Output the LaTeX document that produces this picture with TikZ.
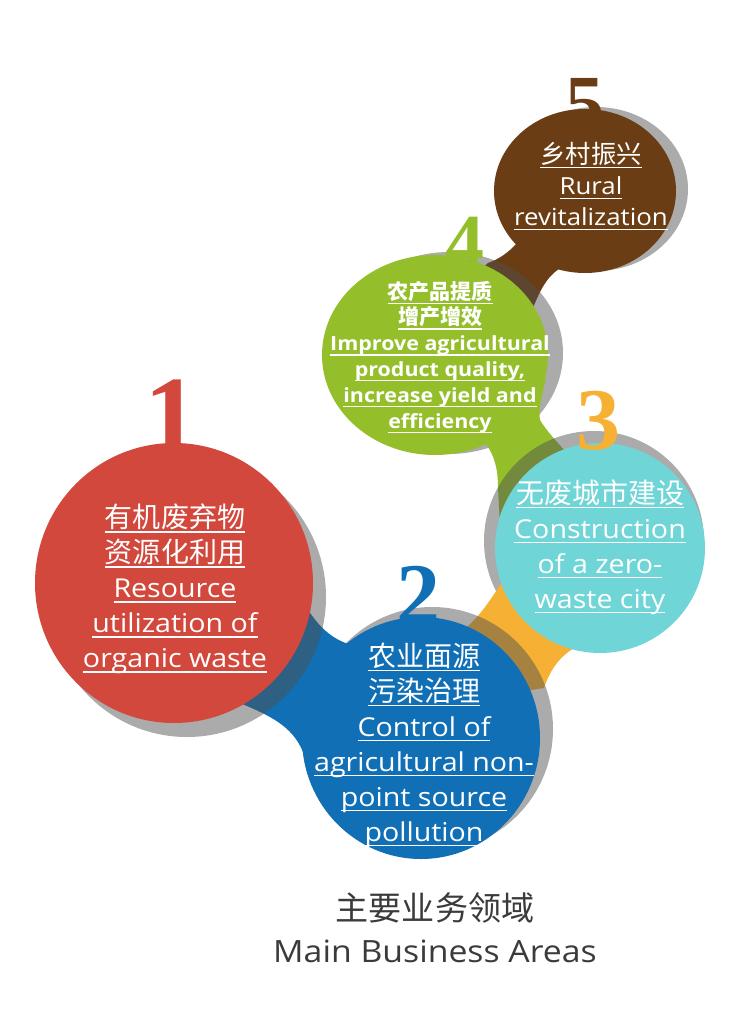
\documentclass[tikz,border=0pt]{standalone}
\usepackage{fontspec}
\setmainfont[FakeStretch=1.1]{Open Sans}
\newfontfamily\cjk[Scale=1.077]{Noto Sans CJK SC}
\newfontfamily\numfont{Liberation Serif}
\definecolor{bubred}{RGB}{210,72,61}
\definecolor{bubblue}{RGB}{16,111,181}
\definecolor{bubteal}{RGB}{112,213,215}
\definecolor{bubgreen}{RGB}{148,191,42}
\definecolor{bubbrown}{RGB}{106,61,20}
\definecolor{buborange}{RGB}{246,176,52}
\definecolor{shade}{RGB}{80,80,80}
\definecolor{titlegray}{RGB}{59,59,59}
\newlength\ulgap \setlength\ulgap{3.5pt}
\newlength\ulrule \setlength\ulrule{1.4pt}
\newsavebox\ulbox
\newcommand\uln[1]{\sbox\ulbox{#1}\rlap{\rule[-\dimexpr\ulgap+\ulrule\relax]{\wd\ulbox}{\ulrule}}\usebox\ulbox}
\newcommand\zhl[1]{{\cjk\uln{#1}}}

\begin{document}
\begin{tikzpicture}[x=1pt,y=1pt,yscale=-1,xscale=1,
	shadow/.style={fill=shade,fill opacity=0.48},
	num/.style={font=\numfont\bfseries\fontsize{88}{88}\selectfont,anchor=base,inner sep=0pt},
	txt/.style={text=white,align=center,inner sep=0pt}]
	\fill[white] (0,0) rectangle (740,1024);
	\useasboundingbox (0,0) rectangle (740,1024);
	% shadows and tails, from bubble 5 down to bubble 1
	\fill[shadow] (596,189) ellipse (92 and 82);
	\fill[bubbrown] (517,243) .. controls (508,253) and (499,259) .. (488,263) -- (478,272) -- (522,322) .. controls (528,316) and (532,310) .. (535,303) .. controls (543,284) and (550,274) .. (562,267) -- cycle;
	\fill[shadow] (449,353) ellipse (114 and 101);
	\fill[bubgreen] (486,444) .. controls (494,455) and (498,468) .. (498,488) -- (500,526) -- (575,470) -- (566,452) .. controls (555,440) and (546,430) .. (540,420) .. controls (538,410) and (542,395) .. (546,378) -- (500,400) -- cycle;
	\fill[shadow] (594,541) ellipse (110 and 110);
	\fill[buborange] (505,578) .. controls (488,603) and (478,620) .. (458,634) -- (520,692) -- (544,688) .. controls (550,670) and (560,655) .. (578,646) -- (575,600) -- cycle;
	\fill[shadow] (432,729) ellipse (121 and 122);
	\fill[bubblue] (355,646) .. controls (335,641) and (320,630) .. (305,605) -- (240,703) .. controls (268,715) and (292,725) .. (303,752) -- (350,700) -- cycle;
	\fill[shadow] (187,597) ellipse (139 and 140);
	% numbers behind the bubbles
	\node[num,text=bubred,font=\numfont\bfseries\fontsize{110}{110}\selectfont] (n1) at (172,452) {1};
	\node[num,text=bubblue] (n2) at (418,624.5) {2};
	\node[num,text=bubgreen,font=\numfont\bfseries\fontsize{78}{78}\selectfont] (n4) at (465,268) {4};
	\node[num,text=bubbrown,font=\numfont\bfseries\fontsize{78}{78}\selectfont] (n5) at (585,130) {5};
	% bubbles
	\fill[bubred] (174,583) ellipse (139 and 140);
	\fill[bubblue] (421,738) ellipse (119 and 121);
	\fill[bubteal] (600,548) ellipse (105 and 105);
	\fill[bubgreen] (435,355) ellipse (113 and 100);
	\fill[bubbrown] (585,191) ellipse (91 and 82);
	\node[num,text=buborange] (n3) at (598,449.5) {3};
	% texts
	\node[txt,font=\fontsize{26}{35}\selectfont] (t1) at (175,589) {\zhl{有机废弃物}\\ \zhl{资源化利用}\\ \uln{Resource}\\ \uln{utilization of}\\ \uln{organic waste}};
	\node[txt,font=\fontsize{26}{35}\selectfont] (t2) at (424,745) {\zhl{农业面源}\\ \zhl{污染治理}\\ \uln{Control of}\\ \uln{agricultural non-}\\ \uln{point source}\\ \uln{pollution}};
	\node[txt,font=\fontsize{26}{35}\selectfont] (t3) at (600,547) {\zhl{无废城市建设}\\ \uln{Construction}\\ \uln{of a zero-}\\ \uln{waste city}};
	\node[txt,font=\bfseries\fontsize{19.5}{25.8}\selectfont] (t4) at (440,357) {\zhl{农产品提质}\\ \zhl{增产增效}\\ \uln{Improve agricultural}\\ \uln{product quality,}\\ \uln{increase yield and}\\ \uln{efficiency}};
	\node[txt,font=\fontsize{23.5}{31}\selectfont] (t5) at (591,186) {\zhl{乡村振兴}\\ \uln{Rural}\\ \uln{revitalization}};
	% caption
	\node[align=center,text=titlegray,inner sep=0pt,font=\fontsize{30.7}{42}\selectfont] (title) at (435,928) {{\cjk 主要业务领域}\\ Main Business Areas};
\end{tikzpicture}
\end{document}
